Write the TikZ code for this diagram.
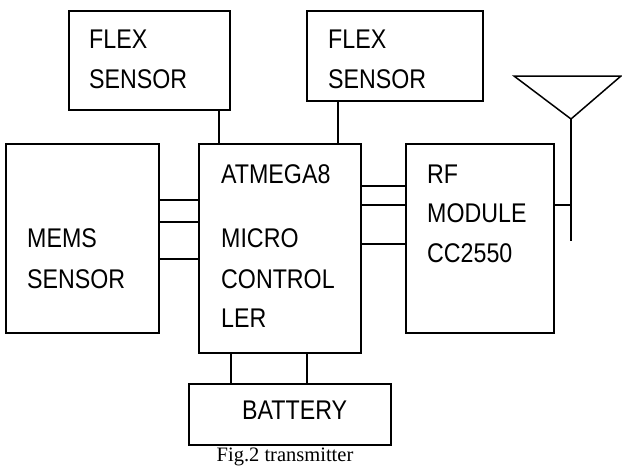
\documentclass[tikz,border=0pt]{standalone}
\usepackage{fontspec}
\setmainfont{Liberation Serif}
\newfontfamily\boxfont{Liberation Sans}[FakeStretch=0.86]
\begin{document}
\begin{tikzpicture}[x=1pt,y=-1pt,
  box/.style={draw, line width=1.5pt, inner sep=0pt, outer sep=0pt, anchor=north west},
  lbl/.style={anchor=base west, inner sep=0pt, font=\boxfont\fontsize{27}{30}\selectfont},
  wire/.style={line width=1.5pt},
  captext/.style={anchor=base, inner sep=0pt, font=\fontsize{20.5}{24}\selectfont}]
\useasboundingbox (0,0) rectangle (622,466);
% boxes
\node[box, minimum width=161pt, minimum height=99pt] (flex1) at (69,11) {};
\node[box, minimum width=176pt, minimum height=90pt] (flex2) at (307,11) {};
\node[box, minimum width=153pt, minimum height=189pt] (mems) at (6,144) {};
\node[box, minimum width=162pt, minimum height=209pt] (atm) at (199,144) {};
\node[box, minimum width=148pt, minimum height=189pt] (rf) at (406,144) {};
\node[box, minimum width=202pt, minimum height=61pt] (bat) at (189,384) {};
% labels
\node[lbl] (f1a) at (89,48) {FLEX};
\node[lbl] (f1b) at (89,88) {SENSOR};
\node[lbl] (f2a) at (328,48) {FLEX};
\node[lbl] (f2b) at (328,88) {SENSOR};
\node[lbl] (ma) at (27,247) {MEMS};
\node[lbl] (mb) at (27,288) {SENSOR};
\node[lbl] (aa) at (221,183) {ATMEGA8};
\node[lbl] (ab) at (221,247) {MICRO};
\node[lbl] (ac) at (221,288) {CONTROL};
\node[lbl] (ad) at (221,327) {LER};
\node[lbl] (ra) at (427,183) {RF};
\node[lbl] (rb) at (427,222) {MODULE};
\node[lbl] (rc) at (427,262) {CC2550};
\node[lbl] (ba) at (242,419) {BATTERY};
\node[captext] (caption) at (285,461) {Fig.2 transmitter};
% antenna
\coordinate (antL) at (514,76);
\coordinate (antR) at (621,76);
\coordinate (antA) at (571,119);
\coordinate (antB) at (571,241);
\draw[wire, line join=miter] (antL) -- (antR) -- (antA) -- cycle;
\draw[wire] (antA) -- (antB);
% connectors
\draw[wire] (flex1.south -| 219,0) -- (atm.north -| 219,0);
\draw[wire] (flex2.south -| 338,0) -- (atm.north -| 338,0);
\foreach \yy in {200,222,259} \draw[wire] (mems.east |- 0,\yy) -- (atm.west |- 0,\yy);
\foreach \yy in {186,205,244} \draw[wire] (atm.east |- 0,\yy) -- (rf.west |- 0,\yy);
\draw[wire] (rf.east |- 0,205) -- (antA |- 0,205);
\foreach \xx in {231,307} \draw[wire] (atm.south -| \xx,0) -- (bat.north -| \xx,0);
\end{tikzpicture}
\end{document}
